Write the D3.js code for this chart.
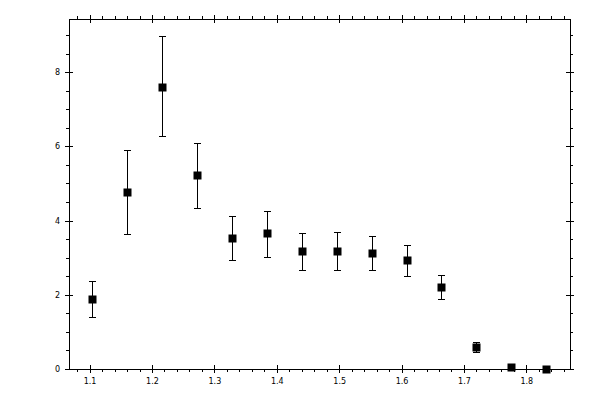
<!DOCTYPE html>
<html>
<head>
<meta charset="utf-8">
<script src="https://cdn.jsdelivr.net/npm/d3@7"></script>
<style>
  html, body { margin: 0; padding: 0; background: #fff; }
  .axis text { font-family: "DejaVu Sans", sans-serif; font-size: 8px; fill: #000; }
  .axis path, .axis line { stroke: #000; shape-rendering: crispEdges; }
</style>
</head>
<body>
<div id="chart"></div>
<script>
const width = 600;
const height = 400;

// 測定点
const xValues = [1.104, 1.160, 1.216, 1.272, 1.329, 1.385, 1.441, 1.496, 1.552, 1.608, 1.664, 1.720, 1.776, 1.832];
const yValues = [1.88, 4.76, 7.61, 5.22, 3.52, 3.655, 3.17, 3.17, 3.12, 2.93, 2.20, 0.58, 0.045, 0.0];
const yUpper  = [2.38, 5.89, 8.97, 6.08, 4.11, 4.27, 3.655, 3.68, 3.57, 3.33, 2.52, 0.73, 0.07, 0.01];
const yLower  = [1.39, 3.63, 6.29, 4.33, 2.93, 3.01, 2.66, 2.68, 2.68, 2.50, 1.88, 0.45, 0.02, 0.0];

// 目盛り
const xTicks = [1.1, 1.2, 1.3, 1.4, 1.5, 1.6, 1.7, 1.8];
const xTickLabels = ["1.1", "1.2", "1.3", "1.4", "1.5", "1.6", "1.7", "1.8"];
const yTicks = [0, 2, 4, 6, 8];
const yTickLabels = ["0", "2", "4", "6", "8"];

const margin = { top: 19, right: 30, bottom: 31, left: 69 };

const svg = d3.select("#chart")
    .append("svg")
    .attr("width", width)
    .attr("height", height);

const x = d3.scaleLinear()
    .domain([1.067, 1.870])
    .range([margin.left, width - margin.right]);

const y = d3.scaleLinear()
    .domain([0, 9.43])
    .range([height - margin.bottom, margin.top]);

// 補助目盛り（主目盛りと重なるものは除く）
const xMinor = d3.range(1.08, 1.87, 0.02).filter(function (v) {
    return !xTicks.some(function (t) { return Math.abs(t - v) < 1e-6; });
});
const yMinor = d3.range(0.5, 9.4, 0.5).filter(function (v) {
    return !yTicks.some(function (t) { return Math.abs(t - v) < 1e-6; });
});

const x0 = margin.left;
const x1 = width - margin.right;
const y0 = height - margin.bottom;
const y1 = margin.top;

function addAxis(transform, axis) {
    svg.append("g")
        .attr("class", "axis")
        .attr("transform", transform)
        .call(axis)
        .call(function (g) { g.select(".domain").remove(); });
}

// 下
addAxis(`translate(0,${y0})`, d3.axisBottom(x).tickValues(xTicks).tickSize(4).tickPadding(5)
    .tickFormat(function (d, i) { return xTickLabels[i]; }));
addAxis(`translate(0,${y0})`, d3.axisBottom(x).tickValues(xMinor).tickSize(3).tickFormat(""));
addAxis(`translate(0,${y0})`, d3.axisTop(x).tickValues(xTicks).tickSize(4).tickFormat(""));

// 上
addAxis(`translate(0,${y1})`, d3.axisTop(x).tickValues(xTicks).tickSize(4).tickFormat(""));
addAxis(`translate(0,${y1})`, d3.axisTop(x).tickValues(xMinor).tickSize(3).tickFormat(""));
addAxis(`translate(0,${y1})`, d3.axisBottom(x).tickValues(xTicks).tickSize(4).tickFormat(""));

// 左
addAxis(`translate(${x0},0)`, d3.axisLeft(y).tickValues(yTicks).tickSize(4).tickPadding(5)
    .tickFormat(function (d, i) { return yTickLabels[i]; }));
addAxis(`translate(${x0},0)`, d3.axisLeft(y).tickValues(yMinor).tickSize(3).tickFormat(""));
addAxis(`translate(${x0},0)`, d3.axisRight(y).tickValues(yTicks).tickSize(4).tickFormat(""));

// 右
addAxis(`translate(${x1},0)`, d3.axisRight(y).tickValues(yTicks).tickSize(4).tickFormat(""));
addAxis(`translate(${x1},0)`, d3.axisRight(y).tickValues(yMinor).tickSize(3).tickFormat(""));
addAxis(`translate(${x1},0)`, d3.axisLeft(y).tickValues(yTicks).tickSize(4).tickFormat(""));

// 枠
svg.append("rect")
    .attr("x", x0 + 0.5)
    .attr("y", y1 + 0.5)
    .attr("width", x1 - x0)
    .attr("height", y0 - y1)
    .attr("fill", "none")
    .attr("stroke", "#000")
    .attr("shape-rendering", "crispEdges");

const points = xValues.map(function (v, i) {
    return { x: v, y: yValues[i], hi: yUpper[i], lo: yLower[i] };
});

// エラーバー
const err = svg.append("g")
    .attr("stroke", "#000")
    .attr("stroke-width", 1)
    .attr("shape-rendering", "crispEdges");

err.selectAll(".stem")
    .data(points)
    .enter()
    .append("line")
    .attr("x1", function (d) { return Math.round(x(d.x)) + 0.5; })
    .attr("x2", function (d) { return Math.round(x(d.x)) + 0.5; })
    .attr("y1", function (d) { return y(d.hi); })
    .attr("y2", function (d) { return y(d.lo); });

err.selectAll(".cap-hi")
    .data(points)
    .enter()
    .append("line")
    .attr("x1", function (d) { return Math.round(x(d.x)) - 3; })
    .attr("x2", function (d) { return Math.round(x(d.x)) + 4; })
    .attr("y1", function (d) { return Math.round(y(d.hi)) + 0.5; })
    .attr("y2", function (d) { return Math.round(y(d.hi)) + 0.5; });

err.selectAll(".cap-lo")
    .data(points)
    .enter()
    .append("line")
    .attr("x1", function (d) { return Math.round(x(d.x)) - 3; })
    .attr("x2", function (d) { return Math.round(x(d.x)) + 4; })
    .attr("y1", function (d) { return Math.round(y(d.lo)) + 0.5; })
    .attr("y2", function (d) { return Math.round(y(d.lo)) + 0.5; });

// マーカー
svg.selectAll(".marker")
    .data(points)
    .enter()
    .append("rect")
    .attr("class", "marker")
    .attr("x", function (d) { return Math.round(x(d.x)) - 3.5; })
    .attr("y", function (d) { return Math.round(y(d.y)) - 3.5; })
    .attr("width", 8)
    .attr("height", 8)
    .attr("fill", "#000");
</script>
</body>
</html>
